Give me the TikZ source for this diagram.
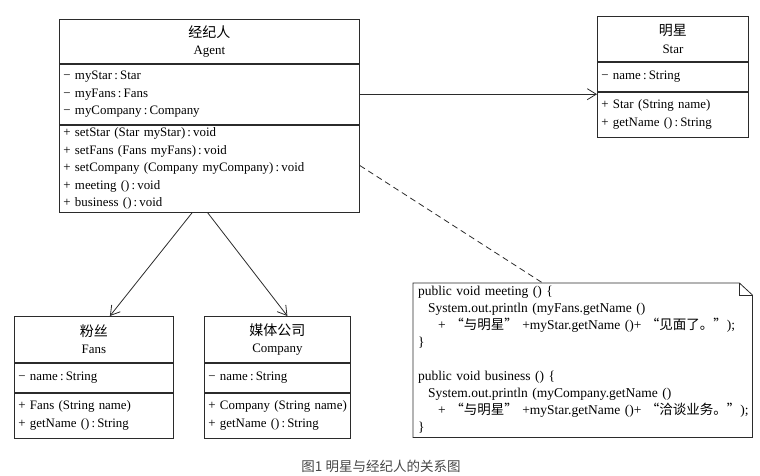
\documentclass[tikz,border=0pt]{standalone}
\usepackage{fontspec}
\setmainfont{Liberation Serif}
\newfontfamily\cjk{Noto Sans CJK SC}
\usetikzlibrary{arrows.meta}
\definecolor{linegray}{HTML}{2B2B2B}
\definecolor{capgray}{HTML}{474747}
\newcommand{\cname}[1]{{\cjk\fontsize{14}{17.5}\selectfont #1}}
\tikzset{
        part/.style n args={3}{draw=linegray, line width=0.8pt, anchor=north west, inner xsep=4pt, inner ysep=0pt,
            align=left, minimum width=#1pt, text width=#2pt, minimum height=#3pt, font=\fontsize{12.9}{17.5}\selectfont},
        head/.style n args={3}{part={#1}{#2}{#3}, align=center},
        assoc/.style={draw=linegray, line width=0.8pt, -{Straight Barb[length=9pt,width=11pt]}},
        link/.style={draw=linegray, line width=0.8pt, dash pattern=on 6pt off 4pt}
    }

\begin{document}
\begin{tikzpicture}[x=1pt, y=-1pt]
            \useasboundingbox (0,0) rectangle (760,476);

            \node [head={300}{292}{44}] (agent-t) at (59, 19) {\cname{经纪人}\\Agent};
            \node [part={300}{292}{60}] (agent-a) at (agent-t.south west) {− myStar\,:\,Star\\− myFans\,:\,Fans\\− myCompany\,:\,Company};
            \node [part={300}{292}{87}] (agent-m) at (agent-a.south west) {+ setStar (Star myStar)\,:\,void\\+ setFans (Fans myFans)\,:\,void\\+ setCompany (Company myCompany)\,:\,void\\+ meeting ()\,:\,void\\+ business ()\,:\,void};

            \node [head={151}{143}{45}] (star-t) at (597, 16) {\cname{明星}\\Star};
            \node [part={151}{143}{29}] (star-a) at (star-t.south west) {− name\,:\,String};
            \node [part={151}{143}{45}] (star-m) at (star-a.south west) {+ Star (String name)\\+ getName ()\,:\,String};

            \node [head={159}{151}{46}] (fans-t) at (14, 316) {\cname{粉丝}\\Fans};
            \node [part={159}{151}{29}] (fans-a) at (fans-t.south west) {− name\,:\,String};
            \node [part={159}{151}{45}] (fans-m) at (fans-a.south west) {+ Fans (String name)\\+ getName ()\,:\,String};

            \node [head={146}{140}{46}, inner xsep=3pt] (comp-t) at (204, 316) {\cname{媒体公司}\\Company};
            \node [part={146}{140}{29}, inner xsep=3pt] (comp-a) at (comp-t.south west) {\hspace*{1pt}− name\,:\,String};
            \node [part={146}{140}{45}, inner xsep=3pt] (comp-m) at (comp-a.south west) {\hspace*{1pt}+ Company (String name)\\\hspace*{1pt}+ getName ()\,:\,String};

            % note with folded corner
            \node [anchor=north west, minimum width=339pt, minimum height=154pt, inner sep=0pt] (note) at (413, 283) {};
            \node [anchor=west, inner sep=0pt, align=left, text width=336pt, font=\fontsize{13.5}{17}\selectfont] (code) at ([xshift=5]note.west) {public void meeting () \{\\
                \hspace*{10pt}System.out.println (myFans.getName ()\\
                \hspace*{20pt}+ {\cjk “与明星”} +myStar.getName ()+ {\cjk “见面了。”});\\
                \}\\[17pt]
                public void business () \{\\
                \hspace*{10pt}System.out.println (myCompany.getName ()\\
                \hspace*{20pt}+ {\cjk “与明星”} +myStar.getName ()+ {\cjk “洽谈业务。”});\\
                \}};
            \draw [linegray, line width=0.8pt] (note.north west) -- ([xshift=-13]note.north east) -- ([yshift=-12]note.north east)
                -- (note.south east) -- (note.south west) -- cycle;
            \draw [linegray, line width=0.8pt] ([xshift=-13]note.north east) |- ([yshift=-12]note.north east);

            \node [font=\cjk\fontsize{13.5}{16}\selectfont, text=capgray] (caption) at (381, 466) {图1 明星与经纪人的关系图};

            \draw [assoc] (agent-a.east) -- (agent-a.east -| star-m.west);
            \draw [assoc] ([xshift=-17]agent-m.south) -- ([xshift=16]fans-t.north);
            \draw [assoc] ([xshift=-2]agent-m.south) -- ([xshift=10]comp-t.north);
            \draw [link] ([yshift=3]agent-m.east) -- ([xshift=-40]note.north);
        \end{tikzpicture}
\end{document}
